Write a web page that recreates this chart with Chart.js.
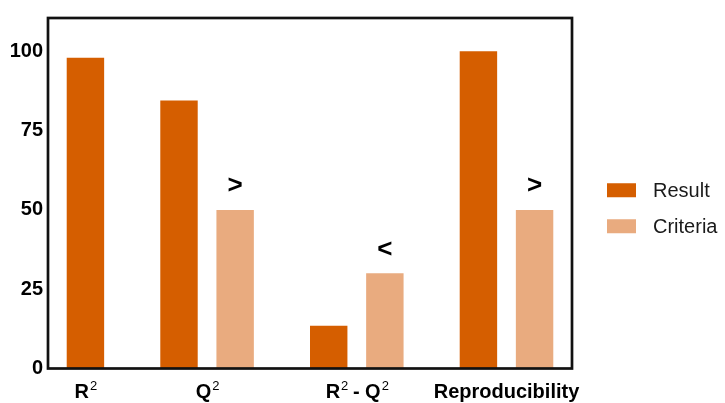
<!DOCTYPE html>
<html>
<head>
<meta charset="utf-8">
<script src="https://cdn.jsdelivr.net/npm/chart.js@4"></script>
<style>
    body { margin: 0; background: #fff; }
    #wrap { width: 725px; height: 403px; }
</style>
</head>
<body>
<div id="wrap"><canvas id="chart" width="725" height="403"></canvas></div>
<script>
// model validation results vs. acceptance criteria (in %)
const CATEGORIES = ['R^2', 'Q^2', 'R^2 - Q^2', 'Reproducibility'];
const RESULT = [98, 84.5, 13.5, 100];
const CRITERIA = [null, 50, 30, 50];
const CRITERIA_SIGN = ['', '>', '<', '>'];
const Y_TICKS = [0, 25, 50, 75, 100];
const SERIES = ['Result', 'Criteria'];

const COLORS = { result: '#D55E00', criteria: '#E9AB7F' };
const FONT = '"Liberation Sans", Arial, sans-serif';

// bars sit on a linear x axis: a result bar, then its criteria bar 3 units later,
// and the next group 5 units after the last bar of the previous one
const resultX = [], criteriaX = [], labelX = [];
let slot = 0;
CATEGORIES.forEach((c, i) => {
    resultX.push(slot);
    let last = slot;
    if (CRITERIA[i] !== null) {
        criteriaX.push(slot + 3);
        last = slot + 3;
    } else {
        criteriaX.push(null);
    }
    labelX.push((slot + last) / 2);
    slot = last + 5;
});

const resultPoints = RESULT.map((v, i) => ({ x: resultX[i], y: v }));
const criteriaPoints = CRITERIA
    .map((v, i) => ({ x: criteriaX[i], y: v }))
    .filter(p => p.y !== null);

// black box around the plot area
const frame = {
    id: 'frame',
    afterDatasetsDraw(chart) {
        const { ctx, chartArea: a } = chart;
        ctx.save();
        ctx.strokeStyle = '#111';
        ctx.lineWidth = 2.7;
        ctx.strokeRect(a.left, a.top, a.right - a.left, a.bottom - a.top);
        ctx.restore();
    }
};

// ">" / "<" marks above the criteria bars
const signs = {
    id: 'signs',
    afterDatasetsDraw(chart) {
        const { ctx } = chart;
        const meta = chart.getDatasetMeta(1);
        const withCrit = CRITERIA.map((v, i) => i).filter(i => CRITERIA[i] !== null);
        ctx.save();
        ctx.font = 'bold 26px ' + FONT;
        ctx.fillStyle = '#000';
        ctx.textAlign = 'center';
        ctx.textBaseline = 'middle';
        meta.data.forEach((bar, j) => {
            ctx.fillText(CRITERIA_SIGN[withCrit[j]], bar.x, bar.y - 24);
        });
        ctx.restore();
    }
};

// category labels with superscripts written as "R^2"
const xLabels = {
    id: 'xLabels',
    afterDraw(chart) {
        const { ctx, chartArea: a } = chart;
        const xs = chart.scales.x;
        const base = 'bold 20px ' + FONT;
        const sup = '13px ' + FONT;
        ctx.save();
        ctx.fillStyle = '#000';
        ctx.textBaseline = 'alphabetic';
        ctx.textAlign = 'left';
        CATEGORIES.forEach((label, i) => {
            const parts = [];
            label.split('^').forEach((p, k) => {
                if (k === 0) { parts.push({ t: p, s: false }); return; }
                parts.push({ t: p[0], s: true });
                if (p.length > 1) parts.push({ t: p.slice(1), s: false });
            });
            let w = 0;
            parts.forEach(p => { ctx.font = p.s ? sup : base; p.w = ctx.measureText(p.t).width; w += p.w; });
            let x = xs.getPixelForValue(labelX[i]) - w / 2;
            const y = a.bottom + 29;
            parts.forEach(p => {
                ctx.font = p.s ? sup : base;
                ctx.fillText(p.t, x + (p.s ? 1 : 0), p.s ? y - 8 : y);
                x += p.w;
            });
        });
        ctx.restore();
    }
};

// legend to the right of the plot
const sideLegend = {
    id: 'sideLegend',
    afterDraw(chart) {
        const { ctx, chartArea: a } = chart;
        const left = a.right + 35;
        const top = (a.top + a.bottom) / 2 - 3;
        ctx.save();
        ctx.font = '20px ' + FONT;
        ctx.textBaseline = 'middle';
        chart.data.datasets.forEach((ds, i) => {
            const cy = top + i * 36;
            ctx.fillStyle = ds.backgroundColor;
            ctx.fillRect(left, cy - 7, 29, 14);
            ctx.fillStyle = '#1a1a1a';
            ctx.fillText(ds.label, left + 46, cy + 1);
        });
        ctx.restore();
    }
};

new Chart(document.getElementById('chart'), {
    type: 'bar',
    data: {
        datasets: [
            { label: SERIES[0], data: resultPoints, backgroundColor: COLORS.result },
            { label: SERIES[1], data: criteriaPoints, backgroundColor: COLORS.criteria }
        ]
    },
    options: {
        responsive: false,
        animation: false,
        devicePixelRatio: 1,
        grouped: false,
        categoryPercentage: 1,
        barPercentage: 2 / 3,
        layout: { padding: { top: 18, right: 153, left: 0, bottom: 0 } },
        plugins: { legend: { display: false }, tooltip: { enabled: false } },
        scales: {
            x: {
                type: 'linear',
                offset: false,
                min: -2,
                max: 26,
                grid: { display: false, drawTicks: false },
                border: { display: false },
                ticks: { display: false },
                afterBuildTicks: s => { s.ticks = labelX.map(v => ({ value: v })); },
                afterFit: s => { s.height = 34.5; }
            },
            y: {
                min: 0,
                max: 110.5,
                grid: { display: false, drawTicks: false },
                border: { display: false },
                afterBuildTicks: s => { s.ticks = Y_TICKS.map(v => ({ value: v })); },
                afterFit: s => { s.width = 48; },
                ticks: {
                    padding: 5,
                    color: '#000',
                    font: { family: FONT, size: 20, weight: 'bold' }
                }
            }
        }
    },
    plugins: [frame, signs, xLabels, sideLegend]
});
</script>
</body>
</html>
